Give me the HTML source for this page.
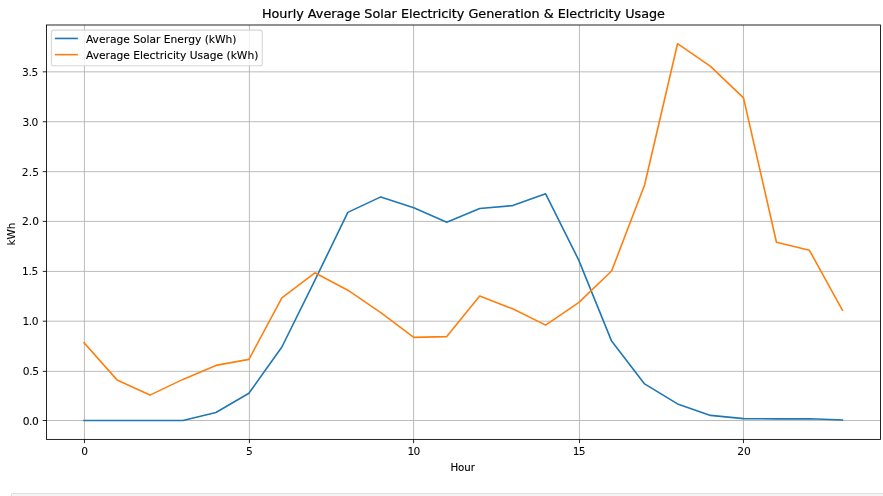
<!DOCTYPE html>
<html lang="en">
<head>
<meta charset="utf-8">
<title>Hourly Average Solar Electricity Generation &amp; Electricity Usage</title>
<style>
html, body { margin: 0; padding: 0; background: #ffffff; }
body { width: 883px; height: 496px; overflow: hidden; position: relative;
  font-family: "DejaVu Sans", "Liberation Sans", sans-serif; }
.chart { position: absolute; left: 0; top: 0; width: 883px; height: 496px; }
.chart svg { display: block; }
.next-cell { position: absolute; left: 11px; top: 493px; width: 880px; height: 20px;
  background: #f5f5f5; border: 1px solid #e0e0e0; border-radius: 1px; box-sizing: border-box; }
</style>
</head>
<body>
<div class="chart">
<svg width="883" height="496" viewBox="0 0 883 496">
<g stroke="#b0b0b0" stroke-width="0.854" fill="none"><line x1="84.45" y1="25.0" x2="84.45" y2="439.4"/><line x1="249.4" y1="25.0" x2="249.4" y2="439.4"/><line x1="413.6" y1="25.0" x2="413.6" y2="439.4"/><line x1="579.45" y1="25.0" x2="579.45" y2="439.4"/><line x1="743.45" y1="25.0" x2="743.45" y2="439.4"/><line x1="46.5" y1="420.5" x2="880.5" y2="420.5"/><line x1="46.5" y1="371.35" x2="880.5" y2="371.35"/><line x1="46.5" y1="321.2" x2="880.5" y2="321.2"/><line x1="46.5" y1="271.4" x2="880.5" y2="271.4"/><line x1="46.5" y1="221.4" x2="880.5" y2="221.4"/><line x1="46.5" y1="171.65" x2="880.5" y2="171.65"/><line x1="46.5" y1="121.74" x2="880.5" y2="121.74"/><line x1="46.5" y1="71.84" x2="880.5" y2="71.84"/></g>
<polyline points="84.05,420.50 117.02,420.50 149.99,420.50 182.96,420.50 215.93,412.50 248.91,393.20 281.88,347.00 314.85,280.40 347.82,212.40 380.79,196.90 413.77,207.80 446.74,222.20 479.71,208.50 512.68,205.60 545.65,193.80 578.63,259.90 611.60,341.10 644.57,383.90 677.54,403.90 710.51,415.40 743.49,418.60 776.46,418.90 809.43,418.70 842.40,420.00" fill="none" stroke="#1f77b4" stroke-width="1.602" stroke-linejoin="round" stroke-linecap="square"/>
<polyline points="84.05,342.70 117.02,379.90 149.99,395.10 182.96,379.40 215.93,365.40 248.91,359.40 281.88,297.90 314.85,272.80 347.82,290.20 380.79,312.70 413.77,337.40 446.74,336.60 479.71,296.10 512.68,308.80 545.65,325.10 578.63,302.60 611.60,271.00 644.57,185.00 677.54,43.70 710.51,66.30 743.49,97.90 776.46,242.20 809.43,250.30 842.40,310.20" fill="none" stroke="#ff7f0e" stroke-width="1.602" stroke-linejoin="round" stroke-linecap="square"/>
<rect x="46.5" y="25.0" width="834.00" height="414.40" fill="none" stroke="#000" stroke-width="0.854"/>
<g stroke="#000" stroke-width="0.854"><line x1="84.45" y1="439.4" x2="84.45" y2="443.14"/><line x1="249.4" y1="439.4" x2="249.4" y2="443.14"/><line x1="413.6" y1="439.4" x2="413.6" y2="443.14"/><line x1="579.45" y1="439.4" x2="579.45" y2="443.14"/><line x1="743.45" y1="439.4" x2="743.45" y2="443.14"/><line x1="46.5" y1="420.5" x2="42.76" y2="420.5"/><line x1="46.5" y1="371.35" x2="42.76" y2="371.35"/><line x1="46.5" y1="321.2" x2="42.76" y2="321.2"/><line x1="46.5" y1="271.4" x2="42.76" y2="271.4"/><line x1="46.5" y1="221.4" x2="42.76" y2="221.4"/><line x1="46.5" y1="171.65" x2="42.76" y2="171.65"/><line x1="46.5" y1="121.74" x2="42.76" y2="121.74"/><line x1="46.5" y1="71.84" x2="42.76" y2="71.84"/></g>
<g font-family="'DejaVu Sans', 'Liberation Sans', sans-serif" fill="#000">
<text x="463.43" y="18.00" font-size="12.772" text-anchor="middle" stroke="#000" stroke-width="0.227">Hourly Average Solar Electricity Generation &amp; Electricity Usage</text>
<text x="462.70" y="471.00" font-size="10.229" text-anchor="middle" stroke="#000" stroke-width="0.132">Hour</text>
<text transform="translate(15.00,234.08) rotate(-90)" font-size="10.357" text-anchor="middle" stroke="#000" stroke-width="0.073">kWh</text>
<text x="84.59" y="455.00" font-size="10.678" text-anchor="middle" stroke="#000" stroke-width="0.059">0</text>
<text x="249.35" y="455.00" font-size="10.678" text-anchor="middle" stroke="#000" stroke-width="0.040">5</text>
<text x="413.41" y="455.00" font-size="10.678" text-anchor="middle" letter-spacing="-0.843" stroke="#000" stroke-width="0.037">10</text>
<text x="578.80" y="455.00" font-size="10.678" text-anchor="middle" letter-spacing="-0.656" stroke="#000" stroke-width="0.025">15</text>
<text x="743.91" y="455.00" font-size="10.678" text-anchor="middle" letter-spacing="-0.028" stroke="#000" stroke-width="0.052">20</text>
<text x="38.30" y="425.00" font-size="10.678" text-anchor="end" letter-spacing="-0.476" stroke="#000" stroke-width="0.082">0.0</text>
<text x="38.68" y="375.00" font-size="10.678" text-anchor="end" letter-spacing="-0.344" stroke="#000" stroke-width="0.053">0.5</text>
<text x="37.91" y="325.00" font-size="10.678" text-anchor="end" letter-spacing="-0.518" stroke="#000" stroke-width="0.039">1.0</text>
<text x="37.85" y="275.00" font-size="10.678" text-anchor="end" letter-spacing="-0.399" stroke="#000" stroke-width="0.025">1.5</text>
<text x="39.04" y="225.00" font-size="10.678" text-anchor="end" letter-spacing="0.003" stroke="#000" stroke-width="0.072">2.0</text>
<text x="39.08" y="176.00" font-size="10.678" text-anchor="end" letter-spacing="0.118" stroke="#000" stroke-width="0.027">2.5</text>
<text x="37.92" y="126.00" font-size="10.678" text-anchor="end" letter-spacing="-0.477" stroke="#000" stroke-width="0.034">3.0</text>
<text x="37.97" y="76.00" font-size="10.678" text-anchor="end" letter-spacing="-0.347" stroke="#000" stroke-width="0.018">3.5</text>
</g>
<rect x="51.45" y="30.15" width="210.8" height="35.65" rx="2.14" ry="2.14" fill="#ffffff" fill-opacity="0.8" stroke="#cccccc" stroke-opacity="0.8" stroke-width="1.068"/>
<line x1="55.74" y1="38.45" x2="77.1" y2="38.45" stroke="#1f77b4" stroke-width="1.602" stroke-linecap="square"/>
<line x1="55.74" y1="54.65" x2="77.1" y2="54.65" stroke="#ff7f0e" stroke-width="1.602" stroke-linecap="square"/>
<g font-family="'DejaVu Sans', 'Liberation Sans', sans-serif" fill="#000"><text x="85.93" y="43.00" font-size="10.703" text-anchor="start" stroke="#000" stroke-width="0.109">Average Solar Energy (kWh)</text><text x="86.01" y="59.00" font-size="10.690" text-anchor="start" stroke="#000" stroke-width="0.116">Average Electricity Usage (kWh)</text></g>
</svg>
</div>
<div class="next-cell"></div>
</body>
</html>
